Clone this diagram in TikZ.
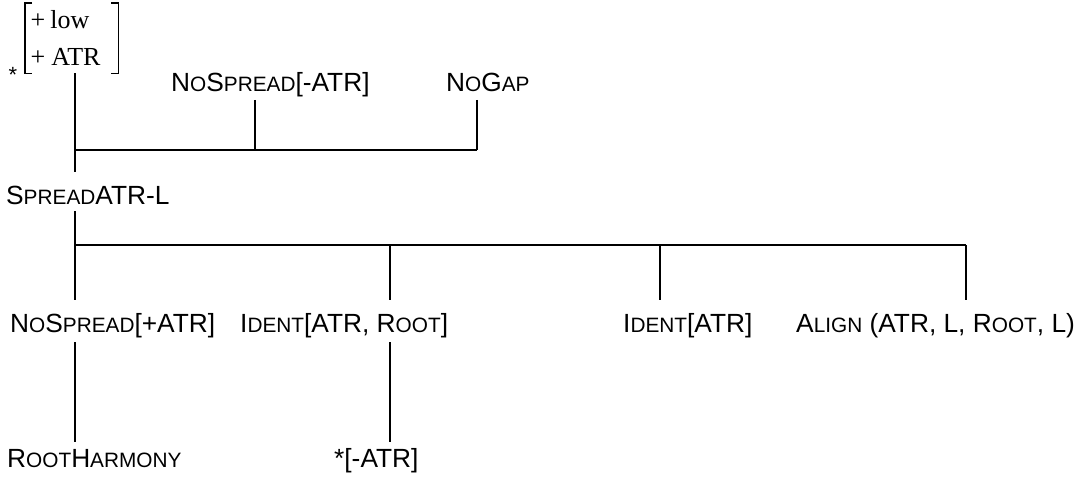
\documentclass[tikz,border=0pt]{standalone}
\usepackage{fontspec}
\setmainfont{Liberation Sans}
\newfontfamily\tnr{Liberation Serif}
\newcommand\smc[1]{{\fontsize{20.8}{20.8}\selectfont #1}}
\tikzset{
  lbl/.style={font=\fontsize{26.3}{26.3}\selectfont, inner sep=0pt, anchor=base west, text depth=0pt},
  toprow/.style={lbl, text height=18.8pt, outer ysep=8pt},
  midrow/.style={lbl, text height=24.8pt, outer ysep=7pt},
  lowrow/.style={lbl, text height=22pt, outer ysep=10pt},
  botrow/.style={lbl, text height=18pt, outer ysep=7pt},
  conn/.style={line width=1.8pt},
  brk/.style={line width=1.2pt}
}
\begin{document}
\begin{tikzpicture}[x=1pt,y=-1pt]
\useasboundingbox[fill=white] (0,0) rectangle (1083,476);
% junction coordinates
\coordinate (b1L) at (75,150);
\coordinate (b1M) at (255,150);
\coordinate (b1R) at (477,150);
\coordinate (b2L) at (75,245);
\coordinate (b2a) at (390,245);
\coordinate (b2b) at (660,245);
\coordinate (b2c) at (966,245);
% feature matrix
\node (m) [anchor=north west, inner sep=0pt, minimum width=93pt, minimum height=70pt,
  text width=90pt, align=left, font=\tnr\fontsize{26}{37}\selectfont] at (25,3)
  {\hspace*{4pt}+\hspace{5pt}low\\\hspace*{4pt}+\hspace{6pt}ATR};
\draw[brk] ([xshift=7pt]m.north west) -- (m.north west) -- (m.south west) -- ([xshift=7pt]m.south west);
\draw[brk] ([xshift=-7pt]m.north east) -- (m.north east) -- (m.south east) -- ([xshift=-7pt]m.south east);
\node (star) [font=\fontsize{22}{22}\selectfont, inner sep=0pt, anchor=base] at (13,83) {*};
% top row
\node (ns1) [toprow] at (171,92) {N\smc{O}S\smc{PREAD}[-ATR]};
\node (ng) [toprow] at (446,92) {N\smc{O}G\smc{AP}};
% middle
\node (sp) [midrow] at (6,204) {S\smc{PREAD}ATR-L};
% lower row
\node (ns2) [lowrow] at (10,332) {N\smc{O}S\smc{PREAD}[+ATR]};
\node (id1) [lowrow] at (240,332) {I\smc{DENT}[ATR, R\smc{OOT}]};
\node (id2) [lowrow] at (623,332) {I\smc{DENT}[ATR]};
\node (al) [lowrow] at (796,332) {A\smc{LIGN} (ATR, L, R\smc{OOT}, L)};
% bottom row
\node (rh) [botrow] at (7,467) {R\smc{OOT}H\smc{ARMONY}};
\node (st) [botrow] at (334,467) {*[-ATR]};
% connectors
\draw[conn] (m.south -| b1L) -- (sp.north -| b1L);
\draw[conn] (b1L) -- (b1R);
\draw[conn] (ns1.south -| b1M) -- (b1M);
\draw[conn] (ng.south -| b1R) -- (b1R);
\draw[conn] (sp.south -| b2L) -- (ns2.north -| b2L);
\draw[conn] (b2L) -- (b2c);
\draw[conn] (b2a) -- (id1.north -| b2a);
\draw[conn] (b2b) -- (id2.north -| b2b);
\draw[conn] (b2c) -- (al.north -| b2c);
\draw[conn] (ns2.south -| b2L) -- (rh.north -| b2L);
\draw[conn] (id1.south -| b2a) -- (st.north -| b2a);
\end{tikzpicture}
\end{document}
